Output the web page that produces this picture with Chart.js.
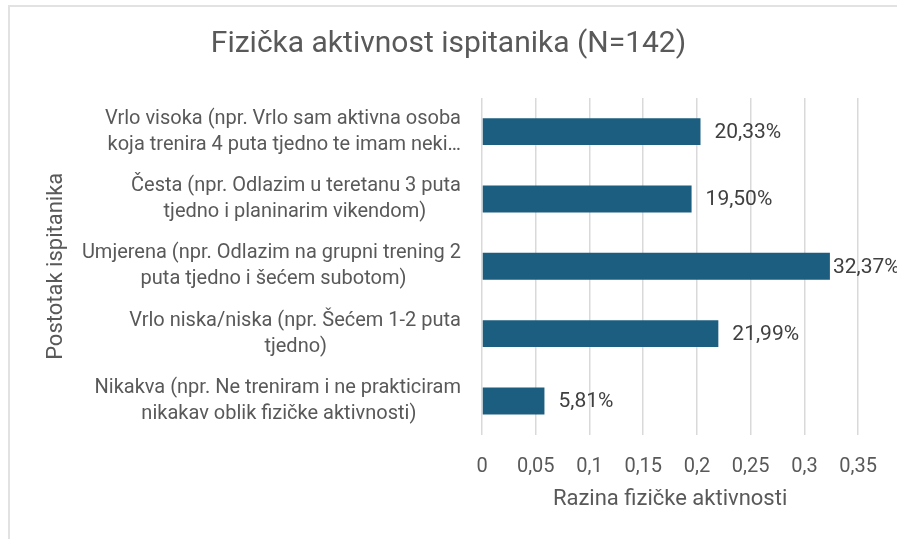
<!DOCTYPE html>
<html><head><meta charset="utf-8">
<script src="https://cdn.jsdelivr.net/npm/chart.js@4.4.1/dist/chart.umd.min.js"></script>
<style>
html,body{margin:0;padding:0;background:#fff;overflow:hidden;}
#wrap{position:relative;width:897px;height:539px;overflow:hidden;background:#fff;}
#frame{position:absolute;left:8px;top:5px;width:2000px;height:2000px;border-left:2px solid #e2e2e2;border-top:2px solid #e2e2e2;pointer-events:none;}
canvas{position:absolute;left:0;top:0;}
</style></head><body>
<div id="wrap"><canvas id="c" width="897" height="539"></canvas><div id="frame"></div></div>
<script>
const categories = [
  ["Vrlo visoka (npr. Vrlo sam aktivna osoba", "koja trenira 4 puta tjedno te imam neki…"],
  ["Česta (npr. Odlazim u teretanu 3 puta", "tjedno i planinarim vikendom)"],
  ["Umjerena (npr. Odlazim na grupni trening 2", "puta tjedno i šećem subotom)"],
  ["Vrlo niska/niska (npr. Šećem 1-2 puta", "tjedno)"],
  ["Nikakva (npr. Ne treniram i ne prakticiram", "nikakav oblik fizičke aktivnosti)"]
];
const shares = [0.2033, 0.1950, 0.3237, 0.2199, 0.0581];
const shareLabels = ["20,33%", "19,50%", "32,37%", "21,99%", "5,81%"];
const xTickLabels = ["0", "0,05", "0,1", "0,15", "0,2", "0,25", "0,3", "0,35"];
const chartTitle = "Fizička aktivnost ispitanika (N=142)";
const yAxisTitle = "Postotak ispitanika";
const xAxisTitle = "Razina fizičke aktivnosti";

const FF = "Roboto";
const mctx = document.createElement('canvas').getContext('2d');
function mw(txt, size){ mctx.font = size + 'px "' + FF + '"'; return mctx.measureText(txt).width; }

// centre the shorter line of each (right-aligned) label within its block
const spaceW = mw(' ', 20);
const paddedCats = categories.map(lines => {
  const ws = lines.map(t => mw(t, 20));
  const mx = Math.max(...ws);
  return lines.map((t, i) => t + ' '.repeat(Math.round((mx - ws[i]) / 2 / spaceW)));
});

const valueLabels = {
  id: 'valueLabels',
  afterDatasetsDraw(chart) {
    const ctx = chart.ctx;
    const meta = chart.getDatasetMeta(0);
    ctx.save();
    ctx.font = '21px "' + FF + '"';
    ctx.fillStyle = '#404040';
    ctx.textBaseline = 'middle';
    ctx.textAlign = 'left';
    meta.data.forEach((el, i) => {
      const t = shareLabels[i];
      const w = ctx.measureText(t).width;
      let x = el.x + 14;
      if (x + w > chart.width) x = el.x + 3;
      ctx.fillText(t, x, el.y + 1);
    });
    ctx.restore();
  }
};

new Chart(document.getElementById('c'), {
  type: 'bar',
  data: {
    labels: paddedCats,
    datasets: [{
      data: shares,
      backgroundColor: '#1B5E80',
      borderWidth: 0,
      categoryPercentage: 1,
      barPercentage: 0.4
    }]
  },
  plugins: [valueLabels],
  options: {
    indexAxis: 'y',
    responsive: false,
    animation: false,
    devicePixelRatio: 1,
    layout: { padding: { left: 0, right: 0, top: 0, bottom: 26 } },
    plugins: {
      legend: { display: false },
      tooltip: { enabled: false },
      title: {
        display: true,
        text: chartTitle,
        color: '#595959',
        font: { family: FF, size: 30, weight: 'normal' },
        padding: { top: 26, bottom: 36 }
      }
    },
    scales: {
      x: {
        min: 0, max: 0.35,
        ticks: {
          stepSize: 0.05,
          color: '#595959',
          font: { family: FF, size: 20 },
          padding: 20,
          maxRotation: 0,
          callback: (v, i) => xTickLabels[i]
        },
        grid: { color: '#d9d9d9', lineWidth: 1.5, drawTicks: false },
        border: { display: false },
        title: {
          display: true, text: xAxisTitle, color: '#595959',
          font: { family: FF, size: 22 },
          padding: { top: -12, bottom: 0 }
        }
      },
      y: {
        ticks: {
          color: '#595959',
          font: { family: FF, size: 20, lineHeight: 1.3 },
          padding: 21,
          autoSkip: false
        },
        grid: { display: false, drawTicks: false },
        border: { display: false },
        title: {
          display: true, text: yAxisTitle, color: '#595959',
          font: { family: FF, size: 22 },
          padding: { top: 42.8, bottom: 0 }
        },
        afterFit: s => { s.width = 482; }
      },
      yRight: {
        type: 'linear',
        position: 'right',
        display: true,
        ticks: { display: false },
        grid: { display: false, drawTicks: false },
        border: { display: false },
        afterFit: s => { s.width = 35; }
      }
    }
  }
});
</script>
</body></html>
